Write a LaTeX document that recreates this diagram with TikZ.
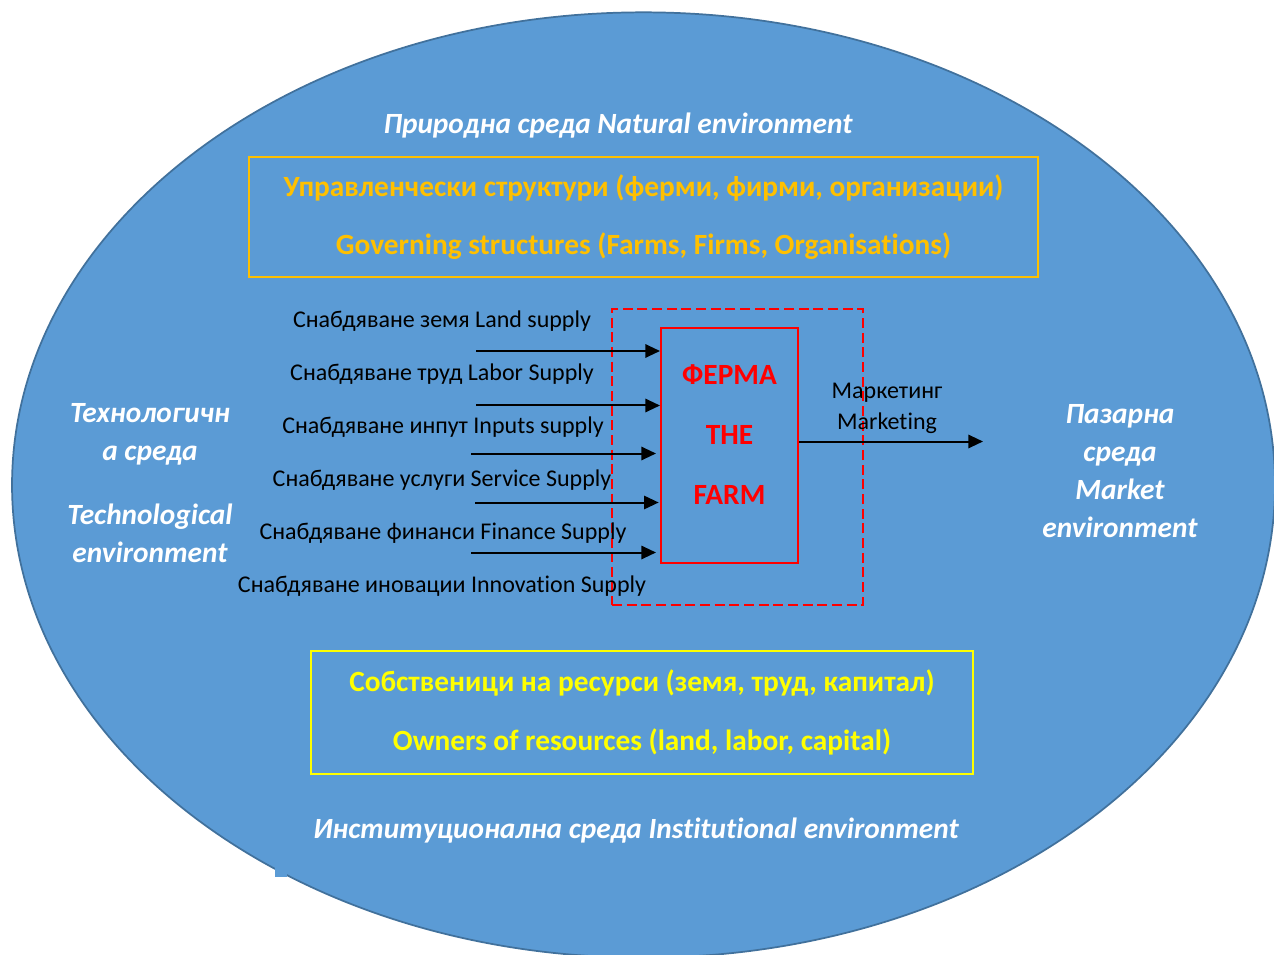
\documentclass[tikz,border=0pt]{standalone}
\usepackage{fontspec}
\setmainfont{Carlito}[RawFeature=-liga, RawFeature=-clig, RawFeature=-calt, RawFeature=-dlig]
\usetikzlibrary{arrows.meta}
\definecolor{ellfill}{HTML}{5B9BD5}
\definecolor{elledge}{HTML}{41719C}
\definecolor{govorange}{HTML}{FFC000}
\definecolor{ownyellow}{HTML}{FFFF00}
\definecolor{farmred}{HTML}{FF0000}
\tikzset{
  envlabel/.style={text=white, font=\fontsize{22}{28.5}\selectfont\bfseries\itshape, align=center, inner sep=0pt},
  supplylabel/.style={text=black, font=\fontsize{18}{20}\selectfont, inner sep=0pt},
  headbox/.style={draw, line width=1.5pt, inner sep=0pt, align=center, font=\fontsize{22}{44}\selectfont\bfseries},
  farmbox/.style={draw=farmred, line width=1.5pt, minimum width=102.75pt, minimum height=176.25pt, inner sep=0pt},
  farmtext/.style={text=farmred, font=\fontsize{22}{45}\selectfont\bfseries, align=center, inner sep=0pt},
  dashbox/.style={draw=farmred, line width=2.2pt, dash pattern=on 7.5pt off 3.5pt, minimum width=188.25pt, minimum height=222pt, inner sep=0pt},
  flow/.style={line width=1.5pt, -{Triangle[length=11pt,width=10pt]}},
}
\begin{document}
\begin{tikzpicture}[x=0.75pt,y=-0.75pt]
\useasboundingbox (0,0) rectangle (1274,955);
\fill[white] (0,0) rectangle (1274,955);
% environment ellipse
\draw[fill=ellfill, draw=elledge, line width=1.3pt] (643.5,485) ellipse [x radius=473.6pt, y radius=354.5pt];
\fill[ellfill] (275,865) rectangle (287,877);

% environment labels
\node[envlabel] (nat) at (618,126) {Природна среда Natural environment};
\node[envlabel] (inst) at (636,831) {Институционална среда Institutional environment};
\node[envlabel] (techbg) at (150,434) {Технологичн\\а среда};
\node[envlabel] (techen) at (150,533) {Technological\\environment};
\node[envlabel] (mkt) at (1120,471) {Пазарна\\среда\\Market\\environment};

% governing structures
\node[headbox, draw=govorange, text=govorange, minimum width=591.75pt, minimum height=90pt] (gov) at (643.5,217)
  {Управленчески структури (ферми, фирми, организации)\\Governing structures (Farms, Firms, Organisations)};
% owners of resources
\node[headbox, draw=ownyellow, text=ownyellow, minimum width=496.5pt, minimum height=92.25pt] (own) at (642,712.5)
  {Собственици на ресурси (земя, труд, капитал)\\Owners of resources (land, labor, capital)};

% farm
\node[dashbox] (dash) at (737.5,457) {};
\node[farmbox] (farm) at (729.5,445.5) {};
\node[farmtext] (farmlbl) at (729.5,435) {ФЕРМА\\THE\\FARM};

% supply labels
\node[supplylabel] (l1) at (442,321) {Снабдяване земя Land supply};
\node[supplylabel] (l2) at (442,374) {Снабдяване труд Labor Supply};
\node[supplylabel] (l3) at (443,427) {Снабдяване инпут Inputs supply};
\node[supplylabel] (l4) at (442,480) {Снабдяване услуги Service Supply};
\node[supplylabel] (l5) at (443,533) {Снабдяване финанси Finance Supply};
\node[supplylabel] (l6) at (442,586) {Снабдяване иновации Innovation Supply};

% arrow starts
\coordinate (s1) at (476,351);
\coordinate (s2) at (476,405.5);
\coordinate (s3) at (471,453.5);
\coordinate (s4) at (475,502.5);
\coordinate (s5) at (471,552.5);
\draw[flow] (s1) -- (s1 -| farm.west);
\draw[flow] (s2) -- (s2 -| farm.west);
\draw[flow, shorten >=3pt] (s3) -- (s3 -| farm.west);
\draw[flow, shorten >=1pt] (s4) -- (s4 -| farm.west);
\draw[flow, shorten >=3pt] (s5) -- (s5 -| farm.west);

% marketing
\node[supplylabel, align=center, font=\fontsize{18}{23.25}\selectfont] (mk) at (887,408.5) {Маркетинг\\Marketing};
\coordinate (mend) at (983,441.5);
\draw[flow] (farm.east |- mend) -- (mend);
\end{tikzpicture}
\end{document}
